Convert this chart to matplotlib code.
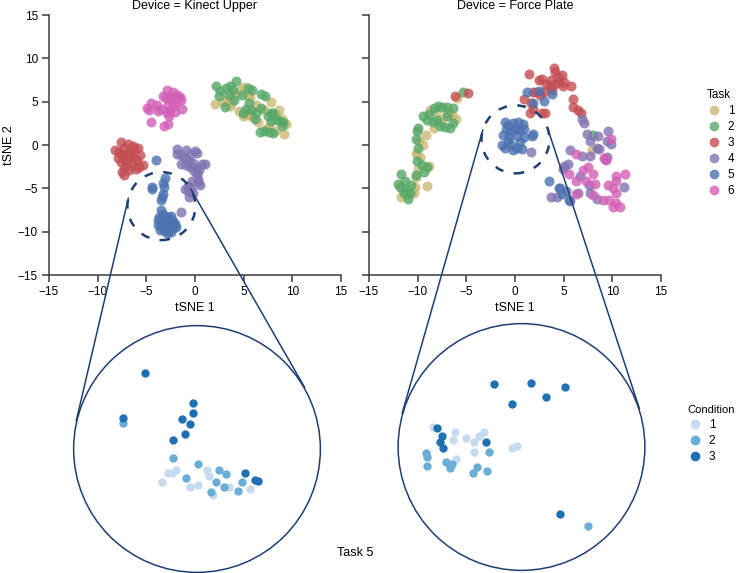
import numpy as np
import matplotlib
matplotlib.use('Agg')
import matplotlib.pyplot as plt
from matplotlib.patches import Circle, Ellipse
from matplotlib.lines import Line2D

plt.rcParams['font.family'] = ['Liberation Sans', 'DejaVu Sans']
plt.rcParams['font.size'] = 8.5

# ---- data (tSNE coordinates) ----
tasks = ['1', '2', '3', '4', '5', '6']
task_colors = ['#ccb974', '#55a868', '#c44e52', '#8172b2', '#4c72b0', '#d35fb7']

kinect_task1 = [(2.1, 4.7), (2.9, 5.0), (3.3, 5.3), (3.8, 5.0), (4.2, 5.9), (4.6, 6.4), (5.0, 6.7),
                (5.6, 5.5), (4.5, 3.9), (4.9, 3.3), (5.3, 3.5), (5.8, 3.3), (6.3, 4.6), (7.1, 4.0),
                (7.8, 5.0), (8.6, 4.0), (8.3, 3.5), (9.4, 2.4), (9.1, 1.3), (8.2, 1.6), (7.6, 2.2),
                (6.5, 2.6), (5.4, 5.7), (3.6, 4.5), (7.3, 1.8), (8.9, 3.0)]
kinect_task2 = [(2.2, 6.8), (2.6, 6.2), (3.2, 6.6), (3.6, 6.8), (4.2, 7.4), (3.5, 5.8), (4.0, 5.2),
                (4.8, 5.8), (5.4, 6.6), (5.9, 6.4), (2.5, 5.7), (3.1, 4.4), (5.5, 4.9), (5.2, 4.2),
                (5.8, 4.0), (6.3, 3.7), (6.2, 3.0), (6.8, 5.9), (7.2, 5.6), (7.5, 3.3), (7.8, 2.8),
                (8.0, 3.7), (8.3, 3.0), (8.6, 2.8), (9.0, 2.6), (8.9, 2.2), (7.1, 1.6), (6.7, 1.5),
                (7.6, 1.5), (8.0, 1.4), (4.9, 3.7), (6.8, 4.3), (7.8, 3.7), (3.9, 6.3)]
kinect_task3 = [(-7.6, 0.4), (-6.9, 0.1), (-6.4, -0.1), (-8.2, -0.6), (-7.8, -0.8), (-7.3, -0.4),
                (-7.5, -1.1), (-6.9, -0.9), (-6.3, -0.5), (-5.9, -0.3), (-5.6, -1.1), (-7.9, -1.5),
                (-7.2, -1.6), (-6.8, -1.4), (-6.2, -1.5), (-6.0, -1.8), (-7.6, -2.0), (-7.0, -2.1),
                (-6.5, -2.3), (-5.8, -2.5), (-5.3, -2.3), (-7.3, -2.6), (-6.8, -2.9), (-7.5, -3.1),
                (-7.3, -3.5), (-6.1, -2.8), (-6.6, -1.0), (-7.1, -1.2)]
kinect_task4 = [(-1.9, -0.5), (-0.9, -0.6), (0.0, -0.7), (-1.9, -1.0), (-1.4, -1.2), (-0.4, -1.0),
                (0.2, -0.9), (-1.0, -1.5), (-0.6, -1.8), (-0.2, -2.1), (-1.4, -2.2), (-0.9, -2.3),
                (-0.5, -2.5), (0.2, -2.6), (0.7, -2.2), (1.0, -2.2), (0.4, -2.9), (-0.1, -3.0),
                (0.2, -3.4), (0.3, -3.9), (-0.3, -4.1), (0.5, -4.6), (-0.7, -4.7), (-0.4, -5.0),
                (-0.2, -5.5), (-0.7, -5.3), (-1.0, -5.1), (-0.6, -6.0), (-1.4, -7.7), (0.3, -4.3)]
kinect_task5 = [(-4.0, -1.7), (-3.1, -3.8), (-3.3, -4.4), (-3.2, -4.9), (-4.4, -4.8), (-4.4, -5.1),
                (-3.3, -5.6), (-3.4, -6.0), (-3.5, -6.3), (-3.5, -7.5), (-3.3, -8.0), (-2.8, -8.3),
                (-3.8, -8.7), (-3.5, -9.1), (-3.2, -8.7), (-2.9, -8.9), (-2.6, -8.6), (-2.3, -8.8),
                (-2.1, -9.1), (-2.4, -9.4), (-2.7, -9.3), (-3.0, -9.4), (-3.4, -9.6), (-3.8, -9.2),
                (-3.6, -9.8), (-3.1, -9.9), (-2.7, -9.7), (-2.3, -9.6), (-2.9, -10.1), (-2.5, -10.0),
                (-2.2, -9.2), (-3.1, -8.4), (-2.5, -8.2), (-3.7, -8.3), (-2.0, -9.5), (-2.6, -9.0),
                (-3.3, -9.2)]
kinect_task6 = [(-2.9, 6.3), (-2.3, 6.1), (-1.9, 5.8), (-1.5, 5.5), (-1.4, 5.2), (-2.6, 5.7),
                (-3.3, 5.6), (-3.0, 5.4), (-2.5, 5.2), (-2.0, 5.0), (-4.5, 4.8), (-4.9, 4.3),
                (-4.7, 4.0), (-3.9, 4.6), (-3.5, 4.2), (-3.8, 3.9), (-2.8, 4.6), (-2.6, 4.0),
                (-2.9, 3.7), (-2.7, 3.3), (-2.1, 3.8), (-1.3, 4.2), (-4.5, 2.7), (-3.2, 2.2),
                (-2.8, 2.4), (-2.2, 4.5)]

force_task1 = [(-6.0, 5.4), (-8.7, 4.0), (-8.1, 3.8), (-6.1, 3.0), (-6.8, 3.6), (-7.5, 3.0), (-7.8, 2.6),
               (-8.3, 2.0), (-9.1, 1.1), (-9.9, 0.5), (-9.5, 0.0), (-10.1, -1.2), (-10.2, -0.9),
               (-9.8, -1.4), (-8.8, -2.4), (-10.0, -2.8), (-10.2, -3.7), (-9.0, -4.7), (-10.3, -4.9),
               (-11.5, -5.3), (-11.0, -5.8), (-10.4, -5.5), (-7.0, 3.8), (-6.5, 3.5), (-11.7, -6.0),
               (7.9, -0.6)]
force_task2 = [(-8.3, 4.3), (-7.9, 4.5), (-7.5, 4.4), (-7.0, 4.4), (-6.4, 4.3), (-9.5, 3.3), (-9.0, 2.9),
               (-8.4, 2.7), (-8.0, 2.9), (-7.7, 2.2), (-7.2, 2.1), (-7.0, 3.4), (-6.7, 2.0), (-6.4, 2.5),
               (-10.0, 2.0), (-10.1, 1.6), (-10.2, 0.7), (-10.0, -0.4), (-10.1, -1.8), (-9.6, -2.3),
               (-9.0, -2.5), (-9.4, -3.1), (-10.2, -3.5), (-11.7, -3.3), (-11.3, -4.1), (-11.8, -4.8),
               (-11.2, -5.1), (-10.8, -5.5), (-11.0, -6.2), (-11.4, -5.5), (-12.0, -4.5), (-8.8, 3.6),
               (-5.3, 6.1), (-10.7, -4.6), (8.0, 1.1)]
force_task3 = [(1.4, 8.2), (2.5, 7.5), (2.8, 7.6), (3.7, 7.5), (4.0, 8.9), (4.1, 8.4), (4.4, 7.9),
               (4.8, 8.1), (3.2, 7.0), (3.6, 6.8), (4.1, 7.0), (4.5, 7.3), (5.0, 7.3), (5.8, 6.8),
               (1.8, 6.1), (2.2, 6.1), (2.6, 5.8), (0.9, 5.3), (1.6, 4.9), (1.9, 4.2), (2.8, 3.7),
               (3.1, 3.7), (1.5, 3.7), (6.0, 5.3), (6.0, 4.4), (6.5, 4.0), (6.8, 3.7), (4.9, 6.8),
               (3.0, 6.1), (3.8, 6.3), (-6.2, 5.6), (-4.8, 6.0)]
force_task4 = [(1.6, -0.8), (6.9, 3.0), (7.1, 2.5), (9.6, 1.6), (7.4, 1.3), (8.5, 1.0), (7.7, 0.5),
               (8.6, -0.5), (5.6, -0.6), (7.7, -1.3), (6.9, -1.3), (5.0, -2.4), (5.4, -2.2), (4.9, -2.8),
               (7.7, -5.5), (4.6, -5.0), (4.3, -6.0), (3.7, -6.0), (5.6, -6.5), (9.5, 0.5), (9.9, 0.1),
               (8.4, -0.3), (9.5, -1.4), (11.2, -4.9), (6.7, -3.6), (7.6, -4.6), (6.5, -5.5),
               (8.4, -6.2), (9.2, -1.6)]
force_task5 = [(1.2, 6.1), (2.5, 6.2), (3.8, 5.9), (1.8, 4.8), (3.0, 5.1), (-1.0, 2.7), (-0.7, 2.3),
               (-0.2, 2.5), (0.3, 2.6), (0.8, 2.4), (-0.9, 1.9), (-0.4, 1.6), (0.0, 1.9), (0.5, 1.7),
               (0.9, 1.8), (-1.2, 1.1), (-0.6, 0.9), (0.2, 1.0), (0.9, 0.9), (1.9, 1.3), (1.7, 1.0),
               (-1.3, 0.0), (-0.4, 0.0), (0.2, -0.3), (0.7, -0.5), (-0.2, -0.6), (-1.0, -0.3),
               (0.5, 0.3), (-0.7, 0.5), (3.5, -4.2), (4.5, -5.0), (5.5, -6.4), (5.2, -5.3), (4.8, -5.7)]
force_task6 = [(6.3, -1.0), (5.5, -3.3), (6.3, -4.2), (7.3, -4.2), (8.0, -3.3), (7.5, -2.5), (7.0, -2.9),
               (9.4, -1.7), (9.1, -1.5), (9.9, 0.7), (9.6, -4.6), (10.4, -4.2), (11.3, -3.3),
               (10.4, -3.6), (10.4, -5.5), (9.7, -6.3), (10.4, -6.7), (10.8, -7.1), (10.1, -7.1),
               (9.0, -6.3), (8.0, -5.8), (6.3, -5.6), (8.2, -4.5), (10.1, -5.0)]

kinect_tasks = [kinect_task1, kinect_task2, kinect_task3, kinect_task4, kinect_task5, kinect_task6]
force_tasks = [force_task1, force_task2, force_task3, force_task4, force_task5, force_task6]

# task 5 zoom (unit circle coords), by condition
conditions = ['1', '2', '3']
cond_colors = ['#c6dbef', '#6aaed6', '#2070b4']
kinect_zoom_cond1 = [(-0.23, -0.19), (-0.20, -0.19), (-0.17, -0.17), (0.08, -0.17), (0.10, -0.22),
                     (-0.28, -0.27), (-0.06, -0.31), (0.01, -0.29), (0.26, -0.31), (0.13, -0.37),
                     (0.43, -0.32)]
kinect_zoom_cond2 = [(-0.60, 0.21), (-0.19, -0.07), (0.01, -0.12), (0.18, -0.17), (0.23, -0.20),
                     (-0.09, -0.23), (0.15, -0.27), (0.22, -0.31), (0.11, -0.35), (0.36, -0.27),
                     (0.33, -0.34)]
kinect_zoom_cond3 = [(-0.42, 0.61), (-0.60, 0.25), (-0.03, 0.37), (-0.03, 0.29), (-0.12, 0.24),
                     (-0.06, 0.20), (-0.10, 0.12), (-0.19, 0.07), (0.39, -0.19), (0.47, -0.25),
                     (0.49, -0.26)]
force_zoom_cond1 = [(-0.71, 0.16), (-0.54, 0.12), (-0.55, 0.06), (-0.45, 0.07), (-0.38, 0.04),
                    (-0.34, 0.09), (-0.30, 0.12), (-0.08, -0.01), (-0.04, 0.01), (-0.53, -0.10),
                    (-0.38, -0.04)]
force_zoom_cond2 = [(-0.77, -0.05), (-0.76, -0.08), (-0.76, -0.15), (-0.61, -0.12), (-0.56, -0.14),
                    (-0.58, -0.17), (-0.26, -0.04), (-0.36, -0.16), (-0.39, -0.21), (-0.28, -0.19),
                    (0.54, -0.64)]
force_zoom_cond3 = [(-0.22, 0.51), (0.08, 0.52), (0.35, 0.48), (0.20, 0.40), (-0.08, 0.35),
                    (-0.68, 0.15), (-0.66, 0.04), (-0.64, 0.09), (-0.29, 0.04), (-0.63, -0.01),
                    (0.31, -0.54)]

# dashed zoom regions in the top panels (data coords)
zoom_centers = [(-3.45, -7.05), (0.05, 0.65)]

navy = '#1f3f73'
spine_col = '#3a3a3a'

fig = plt.figure(figsize=(7.4, 5.73), dpi=100)
ax1 = fig.add_axes([49 / 740, 1 - 275 / 573, 292 / 740, 260 / 573])
ax2 = fig.add_axes([369 / 740, 1 - 275 / 573, 292 / 740, 260 / 573])

for ax, groups, title in [(ax1, kinect_tasks, 'Device = Kinect Upper'),
                          (ax2, force_tasks, 'Device = Force Plate')]:
    for pts, col in zip(groups, task_colors):
        arr = np.array(pts)
        ax.scatter(arr[:, 0], arr[:, 1], s=52, color=col, alpha=0.8, linewidths=0, zorder=2)
    ax.set_xlim(-15, 15)
    ax.set_ylim(-15, 15)
    ax.set_xticks([-15, -10, -5, 0, 5, 10, 15])
    ax.set_yticks([-15, -10, -5, 0, 5, 10, 15])
    ax.spines['top'].set_visible(False)
    ax.spines['right'].set_visible(False)
    for s in ['left', 'bottom']:
        ax.spines[s].set_color(spine_col)
        ax.spines[s].set_linewidth(1.1)
    ax.tick_params(direction='out', length=5, width=1.1, color=spine_col, labelsize=8.5, pad=3)
    ax.set_xlabel('tSNE 1', fontsize=9, labelpad=3)
    ax.set_title(title, fontsize=9, pad=4)

ax1.set_ylabel('tSNE 2', fontsize=9, labelpad=2)
ax2.tick_params(labelleft=False)

# big zoom circles
zax1 = fig.add_axes([73 / 740, 0.0, 248 / 740, 248 / 573])
zax2 = fig.add_axes([397.5 / 740, 1 - 571 / 573, 248 / 740, 248 / 573])
zoom_sets = [(zax1, [kinect_zoom_cond1, kinect_zoom_cond2, kinect_zoom_cond3]),
             (zax2, [force_zoom_cond1, force_zoom_cond2, force_zoom_cond3])]
for zax, sets in zoom_sets:
    zax.set_xlim(-1, 1)
    zax.set_ylim(-1, 1)
    zax.axis('off')
    zax.add_patch(Circle((0, 0), 0.995, fill=False, ec=navy, lw=1.1, clip_on=False))
    for pts, col in zip(sets, cond_colors):
        arr = np.array(pts)
        zax.scatter(arr[:, 0], arr[:, 1], s=36, color=col, linewidths=0, zorder=3)

# dashed circles + tangent lines
fig.canvas.draw()
r_small = 34.0
inv = fig.transFigure.inverted()
for ax, zax, c in [(ax1, zax1, zoom_centers[0]), (ax2, zax2, zoom_centers[1])]:
    ax.add_patch(Ellipse(c, 2 * r_small / 9.733, 2 * r_small / 8.667, fill=False, ec=navy,
                         lw=1.8, linestyle=(0, (3.5, 4.2)), zorder=3))
    c1 = ax.transData.transform(c)
    c2 = zax.transData.transform((0, 0))
    r2 = zax.transData.transform((1, 0))[0] - c2[0]
    d = c2 - c1
    D = np.hypot(*d)
    u = d / D
    perp = np.array([-u[1], u[0]])
    s = (r2 - r_small) / D
    for k in (1, -1):
        n = s * u + k * np.sqrt(1 - s ** 2) * perp
        t1 = inv.transform(c1 - r_small * n)
        t2 = inv.transform(c2 - r2 * n)
        fig.add_artist(Line2D([t1[0], t2[0]], [t1[1], t2[1]], color=navy, lw=1.1,
                              transform=fig.transFigure, zorder=5))

fig.text(355 / 740, 1 - 553 / 573, 'Task 5', ha='center', va='center', fontsize=9)

# legends
task_handles = [Line2D([], [], marker='o', ls='', ms=7, mec='none', mfc=c, alpha=0.8)
                for c in task_colors]
fig.legend(task_handles, tasks, title='Task', loc='upper left', bbox_to_anchor=(696 / 740, 1 - 78 / 573),
           frameon=False, fontsize=8.5, title_fontsize=8.5, handletextpad=0.6, labelspacing=0.35,
           handlelength=1.2, alignment='left')
cond_handles = [Line2D([], [], marker='o', ls='', ms=7, mec='none', mfc=c) for c in cond_colors]
fig.legend(cond_handles, conditions, title='Condition', loc='upper left',
           bbox_to_anchor=(677 / 740, 1 - 394 / 573), frameon=False, fontsize=8.5, title_fontsize=8,
           handletextpad=0.6, labelspacing=0.35, handlelength=1.2, alignment='left')

fig.savefig('out.png', dpi=100)
